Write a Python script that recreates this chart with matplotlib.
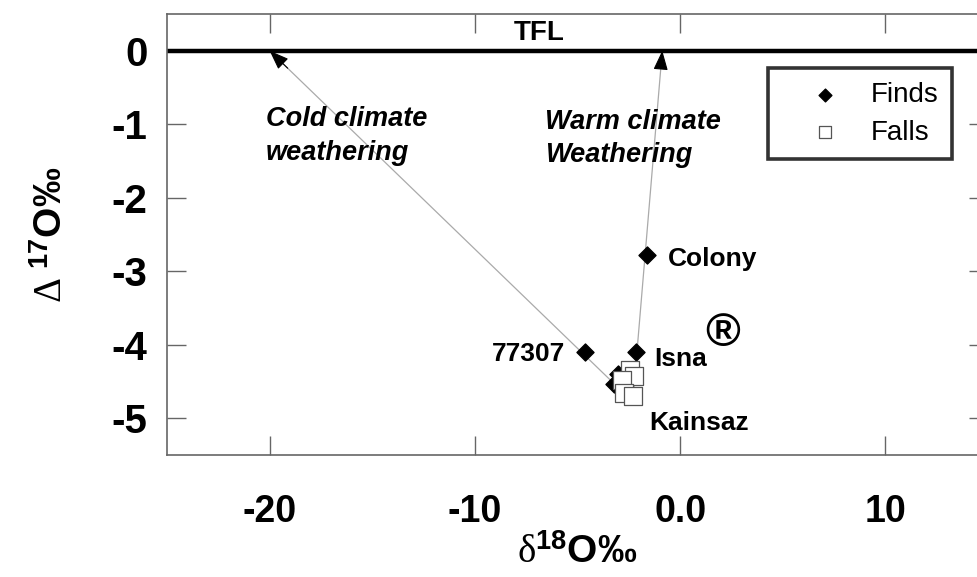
import matplotlib
matplotlib.use("Agg")
import matplotlib.pyplot as plt

# ---- data ----
finds_x = [-1.6, -2.15, -4.65, -3.05, -3.2]
finds_y = [-2.78, -4.10, -4.10, -4.40, -4.53]
falls_x = [-2.45, -2.25, -2.85, -2.75, -2.3]
falls_y = [-4.34, -4.43, -4.48, -4.65, -4.70]
label_names = ["Colony", "77307", "Isna", "Kainsaz"]
label_x = [-0.62, -5.6, -1.25, -1.5]
label_y = [-2.83, -4.12, -4.19, -5.06]
label_ha = ["left", "right", "left", "left"]
cold_start = (-2.4, -4.75)
cold_end = (-20.0, 0.0)
warm_start = (-2.3, -4.75)
warm_end = (-0.87, 0.0)
xticks = [-20, -10, 0, 10]
xticklabels = ["-20", "-10", "0.0", "10"]
yticks = [0, -1, -2, -3, -4, -5]
yticklabels = ["0", "-1", "-2", "-3", "-4", "-5"]

plt.rcParams['font.family'] = ['Liberation Sans', 'DejaVu Sans']
plt.rcParams['mathtext.fontset'] = 'custom'
plt.rcParams['mathtext.rm'] = 'Liberation Serif'
plt.rcParams['mathtext.bf'] = 'Liberation Sans:bold'
plt.rcParams['mathtext.it'] = 'Liberation Serif:italic'

fig = plt.figure(figsize=(9.77, 5.77), dpi=100)
L, R, T, B = 167, 988, 14, 455
ax = fig.add_axes([L / 977, 1 - B / 577, (R - L) / 977, (B - T) / 577])

spine_col = '#666666'
for s in ax.spines.values():
    s.set_color(spine_col)
    s.set_linewidth(1.2)

ax.set_xlim(-25, 15)
ax.set_ylim(-5.5, 0.5)

ax.axhline(0, color='black', lw=3.2, zorder=2)
ax.text(-6.85, 0.06, "TFL", fontsize=20, fontweight='bold', ha='center', va='bottom')

for st, en in [(cold_start, cold_end), (warm_start, warm_end)]:
    ax.annotate("", xy=en, xytext=st, arrowprops=dict(arrowstyle='-', color='#aaaaaa', lw=0.9,
                                                      shrinkA=0, shrinkB=0), zorder=1)
    ax.annotate("", xy=en, xytext=(en[0] + (st[0] - en[0]) * 0.05, en[1] + (st[1] - en[1]) * 0.05),
                arrowprops=dict(arrowstyle='-|>,head_length=1.2,head_width=0.45', color='black',
                                lw=0.8, shrinkA=0, shrinkB=0), zorder=3)

ax.scatter(falls_x, falls_y, marker='s', s=150, facecolor='white', edgecolor='#555555',
           linewidth=0.9, zorder=4, label='Falls')
ax.scatter(finds_x, finds_y, marker='D', s=75, color='black', zorder=3, label='Finds')

for n, x, y, ha in zip(label_names, label_x, label_y, label_ha):
    ax.text(x, y, n, fontsize=19, fontweight='bold', ha=ha, va='center')

ax.text(2.05, -3.86, "®", fontsize=34, fontweight='bold', ha='center', va='center')

ax.text(-20.2, -0.93, "Cold climate", fontsize=19.5, fontweight='bold', style='italic', va='center')
ax.text(-20.2, -1.39, "weathering", fontsize=19.5, fontweight='bold', style='italic', va='center')
ax.text(-6.6, -0.97, "Warm climate", fontsize=19.5, fontweight='bold', style='italic', va='center')
ax.text(-6.6, -1.42, "Weathering", fontsize=19.5, fontweight='bold', style='italic', va='center')

h, l = ax.get_legend_handles_labels()
order = [l.index('Finds'), l.index('Falls')]
leg = ax.legend([h[i] for i in order], [l[i] for i in order], loc='upper left',
                bbox_to_anchor=((768 - L) / (R - L), (B - 68) / (B - T)), borderaxespad=0,
                fontsize=20, frameon=True, fancybox=False, edgecolor='black',
                borderpad=0.5, handlelength=3.1, handletextpad=0.1, labelspacing=0.42,
                markerscale=0.75)
leg.get_frame().set_linewidth(2.6)

ax.set_xticks(xticks)
ax.set_xticklabels(xticklabels, fontsize=27, fontweight='bold')
ax.set_yticks(yticks)
ax.set_yticklabels(yticklabels, fontsize=29, fontweight='bold')
ax.tick_params(direction='in', length=14, width=1, color=spine_col, top=True, right=True,
               labeltop=False, labelright=False)
ax.tick_params(axis='x', pad=28)
ax.tick_params(axis='y', pad=14)

ax.set_xlabel(r'$\mathrm{δ}^{\mathbf{18}}\mathbf{O‰}$', fontsize=28, labelpad=3)
ax.set_ylabel(r'$\mathrm{Δ}\ ^{\mathbf{17}}\mathbf{O‰}$', fontsize=28, labelpad=30)

fig.savefig("out.png", dpi=100)
